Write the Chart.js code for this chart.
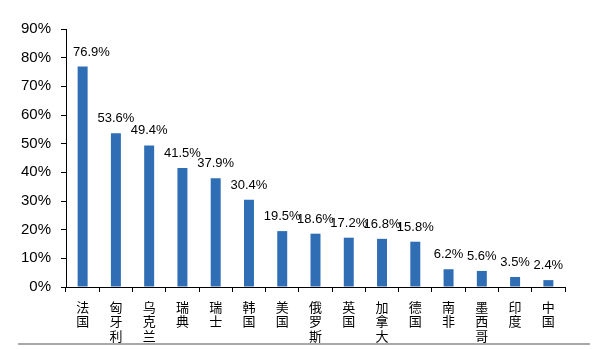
<!DOCTYPE html>
<html>
<head>
<meta charset="utf-8">
<script src="https://cdn.jsdelivr.net/npm/chart.js@4/dist/chart.umd.min.js"></script>
<style>
    html, body { margin: 0; padding: 0; background: #fff; }
    #wrap { width: 593px; height: 349px; }
</style>
</head>
<body>
<div id="wrap"><canvas id="chart" width="593" height="349"></canvas></div>
<script>
// Dados
const countries = ['法国', '匈牙利', '乌克兰', '瑞典', '瑞士', '韩国', '美国', '俄罗斯', '英国', '加拿大', '德国', '南非', '墨西哥', '印度', '中国'];
const shares = [76.9, 53.6, 49.4, 41.5, 37.9, 30.4, 19.5, 18.6, 17.2, 16.8, 15.8, 6.2, 5.6, 3.5, 2.4];
const yTicks = [0, 10, 20, 30, 40, 50, 60, 70, 80, 90];

// Rótulos em cima das barras
const valueLabels = {
    id: 'valueLabels',
    afterDatasetsDraw(chart) {
        const ctx = chart.ctx;
        const meta = chart.getDatasetMeta(0);
        ctx.save();
        ctx.font = '13px "Liberation Sans", Arial, sans-serif';
        ctx.fillStyle = '#000';
        ctx.textAlign = 'center';
        ctx.textBaseline = 'bottom';
        meta.data.forEach((bar, i) => {
            const txt = shares[i].toFixed(1) + '%';
            const w = ctx.measureText(txt).width;
            // empurra para a direita se encostar no eixo
            let x = bar.x;
            const minX = chart.chartArea.left + 7 + w / 2;
            if (x < minX) x = minX;
            ctx.fillText(txt, x, bar.y - 8);
        });
        ctx.restore();
    }
};

// Linha cinza no rodapé
const footerLine = {
    id: 'footerLine',
    afterDraw(chart) {
        const ctx = chart.ctx;
        ctx.save();
        ctx.strokeStyle = '#8c8c8c';
        ctx.lineWidth = 1.5;
        ctx.beginPath();
        ctx.moveTo(18, 344);
        ctx.lineTo(590, 344);
        ctx.stroke();
        ctx.restore();
    }
};

new Chart(document.getElementById('chart'), {
    type: 'bar',
    data: {
        labels: countries.map(c => c.split('')),
        datasets: [{
            data: shares,
            backgroundColor: '#2F6EB5',
            barPercentage: 0.3,
            categoryPercentage: 1
        }]
    },
    options: {
        responsive: false,
        animation: false,
        layout: { padding: { left: 0, top: 29, right: 28, bottom: 0 } },
        plugins: {
            legend: { display: false },
            tooltip: { enabled: false }
        },
        scales: {
            x: {
                afterFit: s => { s.height = 62; },
                grid: { drawOnChartArea: false, tickLength: 5, color: '#000' },
                border: { color: '#000', width: 1 },
                ticks: {
                    color: '#000',
                    padding: 8,
                    maxRotation: 0,
                    autoSkip: false,
                    font: { family: '"Noto Sans CJK SC", sans-serif', size: 13, lineHeight: 1.1 }
                }
            },
            y: {
                min: 0,
                max: 90,
                afterFit: s => { s.width = 66; },
                afterBuildTicks: s => { s.ticks = yTicks.map(v => ({ value: v })); },
                grid: { drawOnChartArea: false, tickLength: 5, color: '#000' },
                border: { color: '#000', width: 1 },
                ticks: {
                    color: '#000',
                    padding: 10,
                    callback: v => v + '%',
                    font: { family: '"Liberation Sans", Arial, sans-serif', size: 15 }
                }
            }
        }
    },
    plugins: [valueLabels, footerLine]
});
</script>
</body>
</html>
